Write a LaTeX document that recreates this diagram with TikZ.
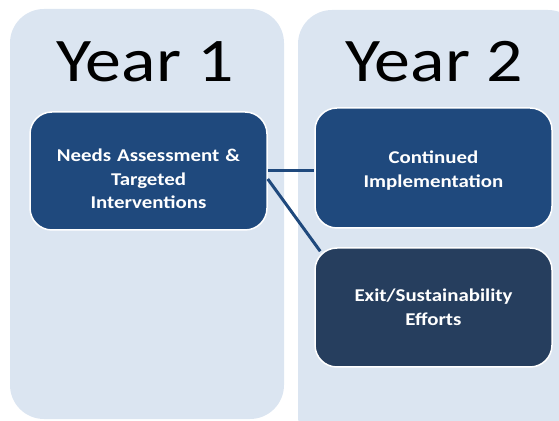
\documentclass[tikz,border=0pt]{standalone}
\usepackage{fontspec}
\setmainfont{Carlito}
\newfontfamily\widefont[FakeStretch=1.16]{Carlito}
\usetikzlibrary{calc}
\definecolor{colfill}{RGB}{219,229,241}
\definecolor{boxblue}{RGB}{31,73,125}
\definecolor{boxdark}{RGB}{38,62,94}
\definecolor{linkblue}{RGB}{31,73,125}
\begin{document}
\begin{tikzpicture}[x=1pt,y=1pt,
  column/.style={fill=colfill, draw=none, rounded corners=34pt},
  yeartitle/.style={font=\widefont\fontsize{62}{62}\selectfont, text=black, anchor=base, inner sep=0pt},
  stagebox/.style={draw=white, line width=1.5pt, rounded corners=22pt, minimum width=237pt,
    text width=220pt, align=center, text=white, inner sep=0pt,
    font=\widefont\bfseries\fontsize{18}{23.5}\selectfont},
  link/.style={draw=linkblue, line width=3pt}]
\useasboundingbox (0,0) rectangle (559,420);
\begin{scope}
\clip (0,0) rectangle (559,420);
\fill[column] (10,1) rectangle (284,411);
\fill[column] (298,-30) rectangle (582,410);
\end{scope}
\node[yeartitle] (t1) at (145,338) {Year 1};
\node[yeartitle] (t2) at (434,338) {Year 2};
\node[stagebox, fill=boxblue, minimum height=118pt] (b1) at (148.5,249) {\rule{0pt}{29pt}Needs Assessment \&\\Targeted\\Interventions};
\node[stagebox, fill=boxblue, minimum height=120pt] (b2) at (433.5,252) {\rule{0pt}{18pt}Continued\\Implementation};
\node[stagebox, fill=boxdark, minimum height=119pt] (b3) at (433.5,112.5) {Exit/Sustainability\\Efforts};
\coordinate (b3corner) at ($(b3.north west)+(6,-4)$);
\draw[link] (b1.east) -- (b2.west |- b1.east);
\draw[link] ([yshift=-8pt]b1.east) -- (b3corner);
\end{tikzpicture}
\end{document}
